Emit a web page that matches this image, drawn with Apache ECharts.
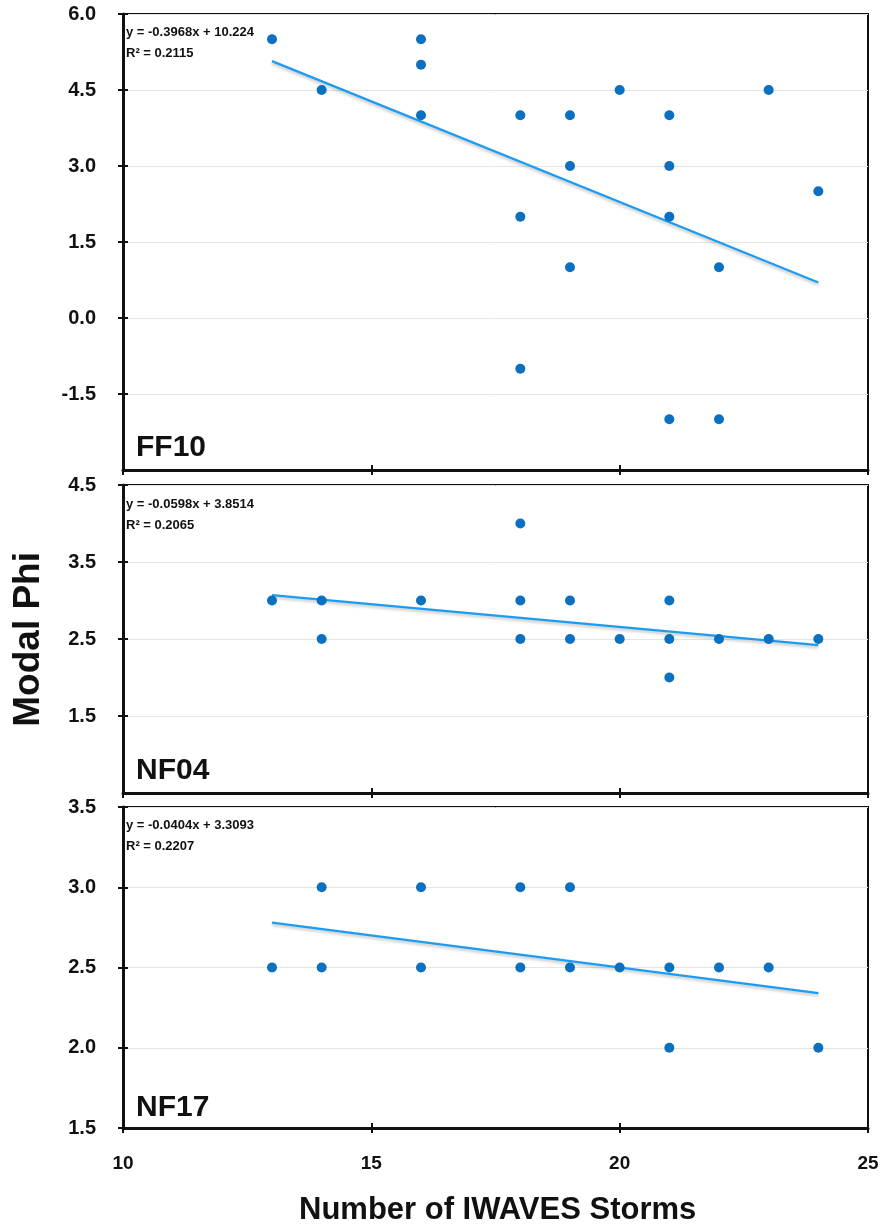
<!DOCTYPE html>
<html lang="en">
<head>
    <meta charset="UTF-8">
    <title>Modal Phi vs IWAVES Storms</title>
    <script src="https://cdn.jsdelivr.net/npm/echarts@6/dist/echarts.min.js"></script>
    <style type="text/css">
        *{
            padding: 0px;
            margin: 0px;
            border: 0px;
        }
        #chart{
            width: 884px;
            height: 1226px;
            background: #fff;
        }
    </style>
</head>
<body>
<div id="chart"></div>
<script>

    // FF10 panel
    var ff10X = [13, 14, 16, 16, 16, 18, 18, 18, 19, 19, 19, 20, 21, 21, 21, 21, 22, 22, 23, 24];
    var ff10Y = [5.5, 4.5, 5.5, 5.0, 4.0, 4.0, 2.0, -1.0, 4.0, 3.0, 1.0, 4.5, 4.0, 3.0, 2.0, -2.0, 1.0, -2.0, 4.5, 2.5];
    var ff10Trend = [[13, 5.07], [24, 0.70]];
    var ff10Eq = ['y = -0.3968x + 10.224', 'R² = 0.2115'];

    // NF04 panel
    var nf04X = [13, 14, 14, 16, 18, 18, 18, 19, 19, 20, 21, 21, 21, 22, 23, 24];
    var nf04Y = [3.0, 3.0, 2.5, 3.0, 4.0, 3.0, 2.5, 3.0, 2.5, 2.5, 3.0, 2.5, 2.0, 2.5, 2.5, 2.5];
    var nf04Trend = [[13, 3.07], [24, 2.42]];
    var nf04Eq = ['y = -0.0598x + 3.8514', 'R² = 0.2065'];

    // NF17 panel
    var nf17X = [13, 14, 14, 16, 16, 18, 18, 19, 19, 20, 21, 21, 22, 23, 24];
    var nf17Y = [2.5, 3.0, 2.5, 3.0, 2.5, 3.0, 2.5, 3.0, 2.5, 2.5, 2.5, 2.0, 2.5, 2.5, 2.0];
    var nf17Trend = [[13, 2.78], [24, 2.34]];
    var nf17Eq = ['y = -0.0404x + 3.3093', 'R² = 0.2207'];

    // axes
    var xTicks = [10, 25, 5];          // min, max, interval
    var yTicks = [
        [-3.0, 6.0, 1.5],
        [0.5, 4.5, 1.0],
        [1.5, 3.5, 0.5]
    ];
    var panelNames = ['FF10', 'NF04', 'NF17'];

    var FONT = '"Liberation Sans", Arial, Helvetica, sans-serif';
    var DOT = '#0a70bf';
    var TREND = '#1b9cf2';

    function pairs(xs, ys) {
        var out = [];
        for (var i = 0; i < xs.length; i++) out.push([xs[i], ys[i]]);
        return out;
    }

    var grids = [
        {left: 123, top: 14, width: 745, height: 456},
        {left: 123, top: 485, width: 745, height: 308},
        {left: 123, top: 807, width: 745, height: 321}
    ];
    grids.forEach(function (g) {
        g.show = true;
        g.borderColor = '#111';
        g.borderWidth = 2;
        g.backgroundColor = '#fff';
    });

    var xAxes = [], yAxes = [];
    for (var i = 0; i < 3; i++) {
        // main x axis
        xAxes.push({
            type: 'value', gridIndex: i, min: xTicks[0], max: xTicks[1], interval: xTicks[2],
            position: 'bottom',
            axisLine: {show: true, onZero: false, lineStyle: {color: '#111', width: 3}},
            axisTick: {show: true, length: 5, lineStyle: {color: '#111', width: 2}},
            axisLabel: {show: i === 2, fontFamily: FONT, fontSize: 19, fontWeight: 'bold', color: '#111', margin: 26},
            splitLine: {show: false}
        });
        // inner ticks so they cross the axis
        xAxes.push({
            type: 'value', gridIndex: i, min: xTicks[0], max: xTicks[1], interval: xTicks[2],
            position: 'bottom',
            axisLine: {show: false, onZero: false},
            axisTick: {show: true, inside: true, length: 5, lineStyle: {color: '#111', width: 2}},
            axisLabel: {show: false},
            splitLine: {show: false}
        });
        yAxes.push({
            type: 'value', gridIndex: i, min: yTicks[i][0], max: yTicks[i][1], interval: yTicks[i][2],
            position: 'left',
            axisLine: {show: true, onZero: false, lineStyle: {color: '#111', width: 3}},
            axisTick: {show: true, length: 5, lineStyle: {color: '#111', width: 2}},
            axisLabel: {
                fontFamily: FONT, fontSize: 20, fontWeight: 'bold', color: '#111', margin: 27,
                showMinLabel: i === 2,
                formatter: function (v) { return v.toFixed(1); }
            },
            splitLine: {show: true, lineStyle: {color: '#e4e4e4', width: 1}}
        });
        yAxes.push({
            type: 'value', gridIndex: i, min: yTicks[i][0], max: yTicks[i][1], interval: yTicks[i][2],
            position: 'left',
            axisLine: {show: false, onZero: false},
            axisTick: {show: true, inside: true, length: 5, lineStyle: {color: '#111', width: 2}},
            axisLabel: {show: false},
            splitLine: {show: false}
        });
    }

    var dotSets = [pairs(ff10X, ff10Y), pairs(nf04X, nf04Y), pairs(nf17X, nf17Y)];
    var trends = [ff10Trend, nf04Trend, nf17Trend];
    var eqs = [ff10Eq, nf04Eq, nf17Eq];

    var series = [];
    for (var k = 0; k < 3; k++) {
        series.push({
            type: 'line', xAxisIndex: k * 2, yAxisIndex: k * 2,
            data: trends[k], symbol: 'none', silent: true, z: 2,
            lineStyle: {color: TREND, width: 2.2, shadowColor: 'rgba(0,0,0,0.25)', shadowBlur: 3, shadowOffsetY: 2}
        });
        series.push({
            type: 'scatter', xAxisIndex: k * 2, yAxisIndex: k * 2,
            data: dotSets[k], symbolSize: 10, z: 3,
            itemStyle: {color: DOT, opacity: 1}
        });
    }

    // equations and panel names
    var eqTops = [17, 489, 810];
    var nameTops = [428, 751, 1088];
    var titles = [];
    for (var t = 0; t < 3; t++) {
        titles.push({
            text: eqs[t][0] + '\n' + eqs[t][1], left: 121, top: eqTops[t],
            textStyle: {fontFamily: FONT, fontSize: 13, fontWeight: 'bold', color: '#111', lineHeight: 21}
        });
        titles.push({
            text: panelNames[t], left: 131, top: nameTops[t],
            textStyle: {fontFamily: FONT, fontSize: 30, fontWeight: 'bold', color: '#111'}
        });
    }
    titles.push({
        text: 'Number of IWAVES Storms', left: 294, top: 1190,
        textStyle: {fontFamily: FONT, fontSize: 31, fontWeight: 'bold', color: '#111'}
    });

    var option = {
        backgroundColor: '#fff',
        animation: false,
        title: titles,
        grid: grids,
        xAxis: xAxes,
        yAxis: yAxes,
        series: series,
        graphic: [{
            type: 'text', left: 10, top: 552, rotation: Math.PI / 2,
            style: {text: 'Modal Phi', fontFamily: FONT, fontSize: 37, fontWeight: 'bold', fill: '#111'}
        }]
    };

    var chart = echarts.init(document.getElementById('chart'));
    chart.setOption(option);

</script>
</body>
</html>
